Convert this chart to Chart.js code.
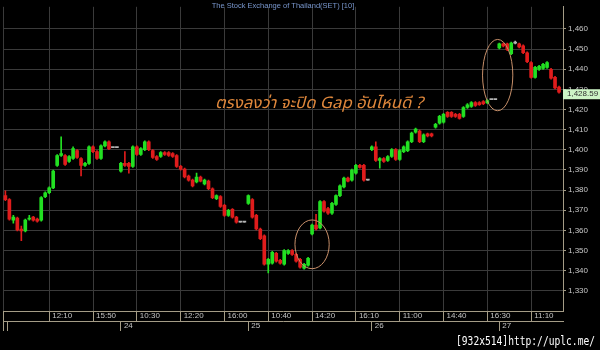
<!DOCTYPE html>
<html>
<head>
<meta charset="utf-8">
<script src="https://cdn.jsdelivr.net/npm/chart.js@4.4.1/dist/chart.umd.min.js"></script>
<style>
  html, body { margin: 0; padding: 0; background: #000; }
  #wrap { width: 600px; height: 350px; }
</style>
</head>
<body>
<div id="wrap"><canvas id="setChart" width="600" height="350"></canvas></div>
<script>
// SET index, 10 minute bars (bar number = position on the x axis)
const opens = [
  1377.3, 1375.3, 1365.1, 1366.1, 1360.7, 1359.8, 1365.6, 1366.6, 1365.6, 1365.1,
  1376.8, 1378.7, 1381.1, 1392.3, 1397.2, 1397.2, 1394.3, 1395.7, 1399.6, 1395.7,
  1392.3, 1393.3, 1401.5, 1399.1, 1395.7, 1402.0, 1404.0, 1401.1, 1401.1, 1389.4,
  1393.3, 1393.3, 1391.8, 1401.5, 1397.7, 1400.1, 1404.0, 1399.6, 1396.7, 1396.7,
  1398.6, 1398.6, 1398.2, 1397.2, 1391.8, 1390.4, 1387.0, 1385.0, 1384.1, 1386.5,
  1383.1, 1384.5, 1380.7, 1375.8, 1376.8, 1372.4, 1367.5, 1370.5, 1366.6, 1364.1,
  1364.1, 1373.4, 1375.3, 1367.5, 1360.7, 1357.3, 1343.2, 1343.7, 1348.6, 1345.2,
  1343.2, 1348.6, 1350.0, 1348.1, 1345.7, 1341.3, 1342.8, 1358.3, 1362.7, 1361.2,
  1374.3, 1370.9, 1368.5, 1372.9, 1377.3, 1381.6, 1386.0, 1385.0, 1388.4, 1392.3,
  1392.3, 1385.0, 1400.1, 1401.5, 1394.7, 1395.7, 1394.7, 1396.7, 1400.1, 1395.2,
  1399.1, 1399.6, 1404.0, 1408.8, 1409.3, 1404.0, 1407.9, 1407.9, 1411.3, 1413.2,
  1413.7, 1418.6, 1418.6, 1417.6, 1417.6, 1416.6, 1421.0, 1421.5, 1423.4, 1423.4,
  1423.9, 1423.4, 1424.9, 1424.9, 1450.6, 1452.6, 1452.6, 1447.7, 1453.0, 1452.6,
  1451.6, 1448.2, 1443.3, 1436.0, 1439.9, 1440.4, 1440.9, 1439.9, 1436.0, 1431.2
];
const highs = [
  1379.7, 1375.8, 1367.5, 1366.6, 1362.2, 1365.6, 1367.5, 1367.0, 1366.1, 1376.8,
  1379.2, 1381.6, 1389.9, 1397.7, 1406.4, 1397.7, 1397.2, 1401.5, 1400.1, 1396.2,
  1393.8, 1402.0, 1402.0, 1399.6, 1402.5, 1404.5, 1404.5, 1401.1, 1401.1, 1393.8,
  1399.1, 1393.8, 1402.0, 1402.0, 1401.1, 1404.5, 1404.5, 1400.1, 1397.2, 1399.1,
  1399.1, 1399.1, 1398.6, 1397.7, 1392.3, 1390.9, 1387.5, 1385.5, 1388.4, 1387.0,
  1385.5, 1385.0, 1381.1, 1377.7, 1377.3, 1372.9, 1370.5, 1370.9, 1367.0, 1364.1,
  1364.1, 1377.7, 1375.8, 1368.0, 1361.2, 1357.8, 1346.2, 1349.6, 1349.1, 1345.7,
  1350.5, 1350.5, 1350.5, 1348.6, 1346.2, 1343.7, 1346.6, 1363.2, 1368.0, 1374.8,
  1374.8, 1371.4, 1373.9, 1377.7, 1382.6, 1386.5, 1386.5, 1390.4, 1392.8, 1392.8,
  1392.8, 1385.0, 1402.0, 1404.0, 1396.2, 1396.2, 1397.2, 1400.6, 1400.6, 1400.1,
  1402.0, 1404.5, 1408.8, 1410.8, 1409.8, 1407.9, 1408.3, 1408.3, 1413.2, 1417.1,
  1418.1, 1419.0, 1419.0, 1418.1, 1418.1, 1421.5, 1422.9, 1423.9, 1423.9, 1423.9,
  1424.4, 1424.9, 1424.9, 1424.9, 1453.0, 1453.0, 1453.0, 1453.5, 1454.0, 1453.0,
  1452.1, 1448.7, 1443.8, 1441.4, 1441.9, 1442.9, 1443.8, 1440.4, 1436.5, 1431.7
];
const lows = [
  1374.8, 1365.1, 1363.6, 1359.8, 1354.9, 1359.3, 1365.1, 1364.6, 1364.1, 1364.6,
  1376.3, 1378.2, 1380.7, 1391.8, 1396.7, 1392.3, 1393.8, 1395.2, 1395.7, 1387.0,
  1391.8, 1392.8, 1398.6, 1395.2, 1395.2, 1401.5, 1400.1, 1401.1, 1401.1, 1388.9,
  1391.8, 1388.4, 1391.3, 1397.2, 1397.2, 1399.6, 1399.6, 1395.7, 1394.7, 1396.2,
  1397.2, 1396.7, 1396.2, 1391.3, 1389.9, 1386.0, 1384.5, 1381.6, 1383.6, 1384.1,
  1382.6, 1380.2, 1375.8, 1375.3, 1371.4, 1367.0, 1367.0, 1366.1, 1363.6, 1364.1,
  1364.1, 1372.9, 1366.1, 1360.3, 1355.4, 1342.8, 1338.9, 1343.2, 1344.2, 1343.2,
  1342.8, 1348.1, 1347.6, 1344.2, 1341.3, 1340.8, 1342.3, 1357.8, 1360.3, 1360.7,
  1369.0, 1368.0, 1368.0, 1372.4, 1376.8, 1381.1, 1384.1, 1384.5, 1387.9, 1390.9,
  1384.5, 1385.0, 1399.6, 1394.3, 1390.9, 1393.8, 1394.3, 1396.2, 1394.7, 1394.7,
  1398.6, 1399.1, 1403.5, 1408.3, 1403.5, 1403.5, 1406.4, 1406.4, 1410.8, 1412.7,
  1413.2, 1416.1, 1416.1, 1416.1, 1415.2, 1416.1, 1420.5, 1421.0, 1421.5, 1422.0,
  1422.4, 1422.9, 1424.9, 1424.9, 1450.1, 1451.1, 1449.2, 1447.2, 1452.6, 1450.6,
  1447.7, 1443.3, 1435.6, 1435.6, 1439.4, 1439.9, 1440.4, 1435.1, 1430.2, 1428.1
];
const closes = [
  1375.3, 1365.6, 1366.6, 1360.3, 1359.8, 1365.1, 1366.1, 1365.1, 1364.6, 1376.3,
  1378.7, 1381.1, 1389.4, 1397.2, 1398.2, 1392.8, 1396.7, 1400.6, 1396.2, 1392.3,
  1393.3, 1401.5, 1399.1, 1395.7, 1402.0, 1404.0, 1400.6, 1401.1, 1401.1, 1393.3,
  1392.3, 1391.8, 1401.5, 1397.7, 1400.6, 1404.0, 1400.1, 1396.2, 1395.2, 1398.6,
  1397.7, 1397.2, 1396.7, 1391.8, 1390.4, 1386.5, 1385.0, 1382.1, 1386.5, 1384.5,
  1385.0, 1380.7, 1376.3, 1377.3, 1371.9, 1367.5, 1370.0, 1366.6, 1364.1, 1364.1,
  1364.1, 1377.3, 1366.6, 1360.7, 1355.9, 1343.2, 1345.7, 1349.1, 1344.7, 1343.7,
  1350.0, 1350.0, 1348.1, 1344.7, 1341.8, 1343.2, 1346.2, 1362.7, 1360.7, 1374.3,
  1369.5, 1368.5, 1373.4, 1377.3, 1382.1, 1386.0, 1384.5, 1389.9, 1392.3, 1391.3,
  1385.0, 1385.0, 1401.5, 1394.7, 1395.7, 1394.3, 1396.7, 1400.1, 1395.2, 1399.6,
  1401.5, 1404.0, 1408.3, 1410.3, 1404.0, 1407.4, 1406.9, 1406.9, 1412.7, 1416.6,
  1417.6, 1416.6, 1416.6, 1416.6, 1415.6, 1421.0, 1422.4, 1423.4, 1422.0, 1422.4,
  1422.9, 1424.4, 1424.9, 1424.9, 1452.6, 1451.6, 1449.7, 1453.0, 1453.0, 1451.1,
  1448.2, 1443.8, 1436.0, 1440.9, 1441.4, 1442.4, 1443.3, 1435.6, 1430.7, 1428.59
];

// time axis (bar number -> label), first entry is the left edge
const timeTicks = [-0.6, 11, 22, 33, 44, 55, 66, 77, 88, 99, 110, 121, 132];
const timeLabels = ['', '12:10', '15:50', '10:30', '12:20', '16:00', '10:40', '14:20', '16:10', '11:00', '14:40', '16:30', '11:10'];

// date row
const dayTicks = [-0.5, 0.5, 29, 61, 92, 124];
const dayLabels = ['', '', '24', '25', '26', '27'];

// price axis
const priceTicks = [1330, 1340, 1350, 1360, 1370, 1380, 1390, 1400, 1410, 1420, 1430, 1440, 1450, 1460];

const chartTitle = 'The Stock Exchange of Thailand(SET) [10]';
const noteText = 'ตรงลงว่า จะปิด Gap อันไหนดี ?';
const watermark = '[932x514]http://uplc.me/';

const UP = '#22e022';
const DOWN = '#e01c1c';
const FLAT = '#b4b4b4';
const AXIS = '#a49c86';
const GRID = '#3a3a3a';

function barColor(i) {
    if (closes[i] > opens[i]) return UP;
    if (closes[i] < opens[i]) return DOWN;
    return FLAT;
}

const fmt = v => Math.round(v).toString().replace(/\B(?=(\d{3})+(?!\d))/g, ',');

// Annotations: circled gaps, note text, last price tag, title, watermark
const overlay = {
    id: 'overlay',
    afterDraw(chart) {
        const { ctx, chartArea, scales: { x, y } } = chart;
        ctx.save();

        ctx.font = '7.5px "Liberation Sans", Arial, sans-serif';
        ctx.fillStyle = '#7896cc';
        ctx.textAlign = 'center';
        ctx.textBaseline = 'middle';
        ctx.fillText(chartTitle, (chartArea.left + chartArea.right) / 2, 6);

        // ellipses around the two gaps (center bar, center price, half width in bars, half height in points)
        const gaps = [[77, 1353.1, 4.3, 12.1], [123.6, 1437.1, 3.8, 17.7]];
        ctx.strokeStyle = '#c8906a';
        ctx.lineWidth = 1;
        gaps.forEach(([gx, gy, dx, dy]) => {
            const cx = x.getPixelForValue(gx);
            const cy = y.getPixelForValue(gy);
            const rx = x.getPixelForValue(gx + dx) - cx;
            const ry = cy - y.getPixelForValue(gy + dy);
            ctx.beginPath();
            ctx.ellipse(cx, cy, rx, ry, 0, 0, Math.PI * 2);
            ctx.stroke();
        });

        ctx.font = 'italic 16px "Noto Sans Thai", "Noto Sans", "DejaVu Sans", sans-serif';
        ctx.fillStyle = '#e0883c';
        ctx.textAlign = 'left';
        ctx.textBaseline = 'alphabetic';
        const tx = x.getPixelForValue(52.6);
        const tw = ctx.measureText(noteText).width;
        ctx.save();
        ctx.translate(tx, y.getPixelForValue(1420.6));
        ctx.scale(208 / tw, 1);
        ctx.fillText(noteText, 0, 0);
        ctx.restore();

        // last price tag
        const last = closes[closes.length - 1];
        const py = y.getPixelForValue(last) + 2;
        ctx.fillStyle = '#cdf5c6';
        ctx.fillRect(chartArea.right, py - 5, 37, 10);
        ctx.fillStyle = '#303030';
        ctx.font = '8px "Liberation Sans", Arial, sans-serif';
        ctx.textBaseline = 'middle';
        ctx.fillText(last.toFixed(2).replace(/\B(?=(\d{3})+(?!\d))/, ','), chartArea.right + 4, py);

        // watermark
        ctx.font = '13px "DejaVu Sans Mono", monospace';
        ctx.fillStyle = '#ffffff';
        ctx.textBaseline = 'alphabetic';
        const w = ctx.measureText(watermark).width;
        ctx.translate(456, 345);
        ctx.scale(139 / w, 1);
        ctx.fillText(watermark, 0, 0);

        ctx.restore();
    }
};

const ctx = document.getElementById('setChart').getContext('2d');

new Chart(ctx, {
    type: 'bar',
    data: {
        datasets: [
            {
                label: 'body',
                data: opens.map((o, i) => ({ x: i, y: [o, closes[i]] })),
                backgroundColor: opens.map((o, i) => barColor(i)),
                barThickness: 3,
                minBarLength: 1,
                borderWidth: 0,
                grouped: false
            },
            {
                label: 'wick',
                data: opens.map((o, i) => ({ x: i, y: [lows[i], highs[i]] })),
                backgroundColor: opens.map((o, i) => barColor(i)),
                barThickness: 1,
                borderWidth: 0,
                grouped: false
            }
        ]
    },
    options: {
        responsive: false,
        animation: false,
        events: [],
        layout: { padding: { left: 3, top: 0, right: 0, bottom: 0 } },
        plugins: {
            legend: { display: false },
            tooltip: { enabled: false },
            title: { display: false }
        },
        scales: {
            x: {
                type: 'linear',
                position: 'bottom',
                min: -0.6,
                max: 140,
                offset: false,
                weight: 0,
                afterBuildTicks: axis => { axis.ticks = timeTicks.map(v => ({ value: v })); },
                afterFit: axis => { axis.height = 10; },
                grid: { offset: false, color: GRID, tickColor: AXIS, tickLength: 10, drawTicks: true },
                border: { display: true, color: AXIS },
                ticks: {
                    autoSkip: false,
                    maxRotation: 0,
                    align: 'start',
                    padding: -10,
                    labelOffset: 3,
                    color: '#c4c4c4',
                    font: { family: '"Liberation Sans", Arial, sans-serif', size: 8 },
                    callback: (v, i) => timeLabels[i]
                }
            },
            x2: {
                type: 'linear',
                position: 'bottom',
                min: -0.6,
                max: 140,
                offset: false,
                weight: 1,
                afterBuildTicks: axis => { axis.ticks = dayTicks.map(v => ({ value: v })); },
                afterFit: axis => { axis.height = 29; },
                grid: { offset: false, drawOnChartArea: false, color: AXIS, tickLength: 10, drawTicks: true },
                border: { display: true, color: AXIS },
                ticks: {
                    autoSkip: false,
                    maxRotation: 0,
                    align: 'start',
                    padding: -10,
                    labelOffset: 3,
                    color: '#c4c4c4',
                    font: { family: '"Liberation Sans", Arial, sans-serif', size: 8 },
                    callback: (v, i) => dayLabels[i]
                }
            },
            y: {
                type: 'linear',
                position: 'right',
                min: 1320,
                max: 1471,
                afterBuildTicks: axis => { axis.ticks = priceTicks.map(v => ({ value: v })); },
                afterFit: axis => { axis.width = 37; },
                grid: { color: GRID, tickColor: AXIS, tickLength: 3, drawTicks: true },
                border: { display: true, color: AXIS },
                ticks: {
                    padding: 2,
                    color: '#c8c8c8',
                    font: { family: '"Liberation Sans", Arial, sans-serif', size: 8 },
                    callback: v => fmt(v)
                }
            }
        }
    },
    plugins: [overlay]
});
</script>
</body>
</html>
